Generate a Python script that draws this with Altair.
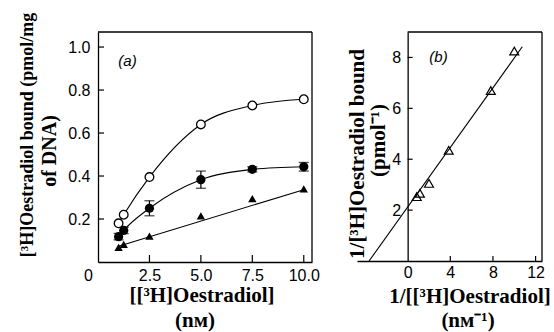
import altair as alt
import pandas as pd

# ---------------- data ----------------
# panel (a): [3H]oestradiol bound vs [3H]oestradiol (nM)
conc = [1.0, 1.25, 2.5, 5.0, 7.5, 10.0]
open_bound = [0.18, 0.22, 0.395, 0.64, 0.728, 0.757]
filled_bound = [0.118, 0.147, 0.25, 0.383, 0.431, 0.443]
filled_err = [0.015, 0.015, 0.035, 0.04, 0.012, 0.02]
tri_bound = [0.068, 0.082, 0.12, 0.215, 0.295, 0.34]
tri_fit_slope = 0.0292
tri_fit_intercept = 0.0445
tri_fit_x = [1.0, 10.0]

# panel (b): double-reciprocal plot
inv_conc = [0.85, 1.15, 2.0, 3.85, 7.8, 10.0]
inv_bound = [2.53, 2.66, 3.05, 4.35, 6.7, 8.25]
b_fit_slope = 0.586
b_fit_intercept = 2.12
b_fit_x = [-3.62, 10.75]

# axis ticks
a_xticks = [2.5, 5.0, 7.5, 10.0]
a_yticks = [0.2, 0.4, 0.6, 0.8, 1.0]
b_xticks = [0, 4, 8, 12]
b_yticks = [2, 4, 6, 8]

# texts
a_ytitle = ["[³H]Oestradiol bound (pmol/mg", "of DNA)"]
a_xtitle = ["[[³H]Oestradiol]", "(nᴍ)"]
b_ytitle = ["1/[³H]Oestradiol bound", "(pmol⁻¹)"]
b_xtitle = ["1/[[³H]Oestradiol]", "(nᴍ⁻¹)"]
panel_labels = ["(a)", "(b)"]
origin_label = "0"

# ---------------- layout ----------------
W, H = 444, 230
A_XD, A_XR = [0, 10.4], [0, 214]
A_YD, A_YR = [0, 1.07], [230, 0]
B_XD, B_XR = [-4.75, 12.6], [259, 444]
B_YD, B_YR = [0, 9], [229, 0]


def px(v, d, r):
    return r[0] + (v - d[0]) / (d[1] - d[0]) * (r[1] - r[0])


B_X0 = px(0, B_XD, B_XR)

LBL = dict(labelFont="Liberation Sans", labelFontSize=16, labelColor="#000",
           labelFlush=False, labelOverlap=False, ticks=False, grid=False,
           domainColor="#000", domainWidth=1.3, title=None)

ax_xa = alt.Axis(orient="bottom", values=a_xticks, format=".1f",
                 labelPadding=13, labelBaseline="middle", **LBL)
ax_ya = alt.Axis(orient="left", values=a_yticks, format=".1f",
                 labelPadding=8, **LBL)
ax_xb = alt.Axis(orient="bottom", values=b_xticks, format="d", offset=-1,
                 labelPadding=11, labelBaseline="middle", **LBL)
ax_yb = alt.Axis(orient="left", values=b_yticks, format="d", offset=-B_X0,
                 labelPadding=7, **LBL)


def xa(f):
    return alt.X(f"{f}:Q", scale=alt.Scale(domain=A_XD, range=A_XR), axis=ax_xa, title=None)


def ya(f):
    return alt.Y(f"{f}:Q", scale=alt.Scale(domain=A_YD, range=A_YR), axis=ax_ya, title=None)


def xb(f):
    return alt.X(f"{f}:Q", scale=alt.Scale(domain=B_XD, range=B_XR), axis=ax_xb, title=None)


def yb(f):
    return alt.Y(f"{f}:Q", scale=alt.Scale(domain=B_YD, range=B_YR), axis=ax_yb, title=None)


dfa = pd.DataFrame({"x": conc, "open": open_bound, "filled": filled_bound,
                    "lo": [v - e for v, e in zip(filled_bound, filled_err)],
                    "hi": [v + e for v, e in zip(filled_bound, filled_err)],
                    "tri": tri_bound})
dfa_fit = pd.DataFrame({"x": tri_fit_x,
                        "y": [tri_fit_intercept + tri_fit_slope * v for v in tri_fit_x]})
dfb = pd.DataFrame({"x": inv_conc, "y": inv_bound})
dfb_fit = pd.DataFrame({"x": b_fit_x,
                        "y": [b_fit_intercept + b_fit_slope * v for v in b_fit_x]})
one = pd.DataFrame({"d": [0]})

K = "#000"
base_a = alt.Chart(dfa)

a_layers = [
    base_a.mark_line(interpolate="monotone", color=K, strokeWidth=1.1).encode(x=xa("x"), y=ya("open")),
    base_a.mark_line(interpolate="monotone", color=K, strokeWidth=1.1).encode(x=xa("x"), y=ya("filled")),
    alt.Chart(dfa_fit).mark_line(color=K, strokeWidth=1.1).encode(x=xa("x"), y=ya("y")),
    base_a.mark_rule(color=K, strokeWidth=1.2).encode(x=xa("x"), y=ya("lo"), y2="hi"),
    base_a.mark_tick(orient="horizontal", size=10, thickness=1.3, color=K).encode(x=xa("x"), y=ya("lo")),
    base_a.mark_tick(orient="horizontal", size=10, thickness=1.3, color=K).encode(x=xa("x"), y=ya("hi")),
    base_a.mark_point(shape="circle", filled=True, fill="white", stroke=K, strokeWidth=1.3,
                      size=75, opacity=1).encode(x=xa("x"), y=ya("open")),
    base_a.mark_point(shape="circle", filled=True, color=K, size=85, opacity=1).encode(x=xa("x"), y=ya("filled")),
    base_a.mark_point(shape="triangle-up", filled=True, color=K, size=70, opacity=1).encode(x=xa("x"), y=ya("tri")),
    # inward ticks
    alt.Chart(pd.DataFrame({"v": a_xticks})).mark_rule(color=K, strokeWidth=1.2).encode(
        x=xa("v"), y=alt.value(A_YR[0]), y2=alt.value(A_YR[0] - 7)),
    alt.Chart(pd.DataFrame({"v": a_yticks})).mark_rule(color=K, strokeWidth=1.2).encode(
        y=ya("v"), x=alt.value(0), x2=alt.value(6)),
    # frame (top, right)
    alt.Chart(one).mark_rule(color=K, strokeWidth=1.3).encode(
        x=alt.value(A_XR[0]), x2=alt.value(A_XR[1]), y=alt.value(0)),
    alt.Chart(one).mark_rule(color=K, strokeWidth=1.3).encode(
        x=alt.value(A_XR[1]), y=alt.value(0), y2=alt.value(A_YR[0])),
]

b_layers = [
    alt.Chart(dfb_fit).mark_line(color=K, strokeWidth=1.1).encode(x=xb("x"), y=yb("y")),
    alt.Chart(dfb).mark_point(shape="triangle-up", filled=False, stroke=K, strokeWidth=1.2,
                              size=80, opacity=1).encode(x=xb("x"), y=yb("y")),
    alt.Chart(pd.DataFrame({"v": b_xticks[1:]})).mark_rule(color=K, strokeWidth=1.2).encode(
        x=xb("v"), y=alt.value(B_YR[0]), y2=alt.value(B_YR[0] - 5)),
    alt.Chart(pd.DataFrame({"v": b_yticks})).mark_rule(color=K, strokeWidth=1.2).encode(
        y=yb("v"), x=alt.value(B_X0), x2=alt.value(B_X0 + 5)),
    alt.Chart(one).mark_rule(color=K, strokeWidth=1.3).encode(
        x=alt.value(B_X0), x2=alt.value(B_XR[1]), y=alt.value(0)),
    alt.Chart(one).mark_rule(color=K, strokeWidth=1.3).encode(
        x=alt.value(B_XR[1]), y=alt.value(0), y2=alt.value(B_YR[0])),
]

SERIF = dict(font="Liberation Serif", fontWeight="bold", color=K)


def txt(s, x, y, **kw):
    return alt.Chart(one).mark_text(text=s, **kw).encode(x=alt.value(x), y=alt.value(y))


texts = [
    txt(a_ytitle[0], -70.5, 103, angle=270, fontSize=18, align="center", baseline="middle", **SERIF),
    txt(a_ytitle[1], -48.5, 119, angle=270, fontSize=20, align="center", baseline="middle", **SERIF),
    txt(b_ytitle[0], 259.5, 122, angle=270, fontSize=21, align="center", baseline="middle", **SERIF),
    txt(b_ytitle[1], 281, 108.5, angle=270, fontSize=21, align="center", baseline="middle", **SERIF),
    txt(a_xtitle[0], 104, 269.7, fontSize=21, align="center", baseline="alphabetic", **SERIF),
    txt(a_xtitle[1], 97, 294.5, fontSize=21, align="center", baseline="alphabetic", **SERIF),
    txt(b_xtitle[0], 372, 271, fontSize=21, align="center", baseline="alphabetic", **SERIF),
    txt(b_xtitle[1], 370, 294.5, fontSize=21, align="center", baseline="alphabetic", **SERIF),
    txt(panel_labels[0], 29.5, 29, font="Liberation Sans", fontStyle="italic", fontSize=15,
        align="center", baseline="middle", color=K),
    txt(panel_labels[1], 340.5, 24.5, font="Liberation Sans", fontStyle="italic", fontSize=15,
        align="center", baseline="middle", color=K),
    txt(origin_label, -9.5, 244, font="Liberation Sans", fontSize=16, align="center",
        baseline="middle", color=K),
]

layer_a = alt.layer(*a_layers)
layer_b = alt.layer(*b_layers)

chart = alt.layer(layer_a, layer_b, *texts).resolve_scale(
    x="independent", y="independent"
).properties(
    width=W, height=H,
    autosize=alt.AutoSizeParams(type="none"),
    padding={"left": 98, "top": 32, "right": 12, "bottom": 70},
    background="white",
).configure_view(stroke=None)

chart.save("out.html", embed_options={"renderer": "svg", "actions": False})
